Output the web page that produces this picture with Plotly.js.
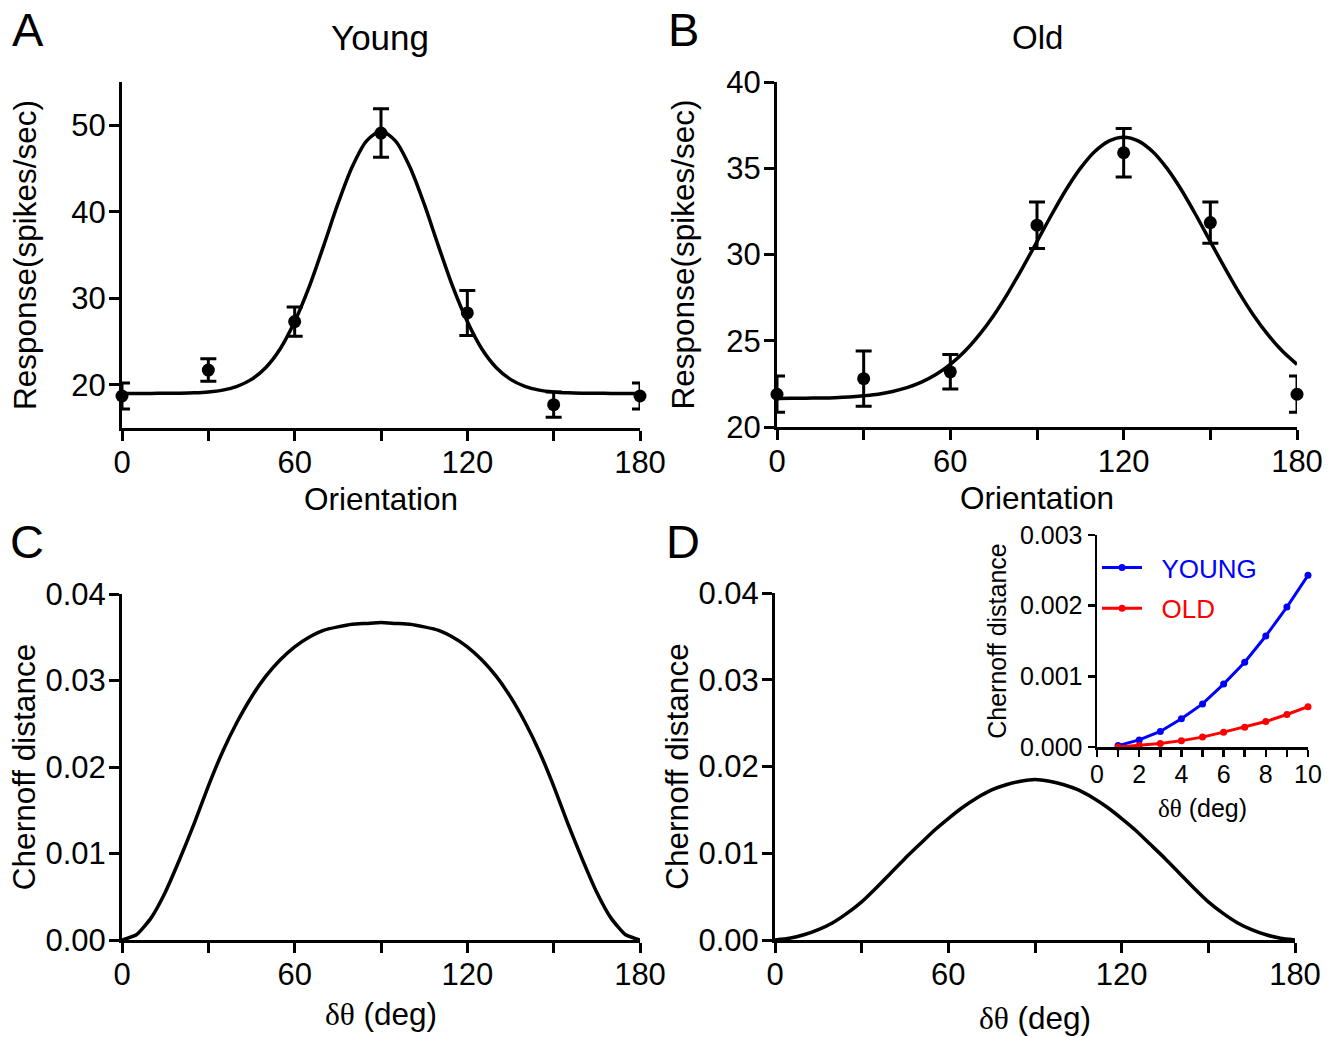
<!DOCTYPE html>
<html><head><meta charset="utf-8">
<script src="https://cdn.plot.ly/plotly-3.0.1.min.js"></script>
<style>html,body{margin:0;padding:0;background:#fff}#chart{width:1333px;height:1037px}</style>
</head><body><div id="chart"></div>
<script>
// ---- Data ----
const orientations = [0, 30, 60, 90, 120, 150, 180];
const youngResp = [18.7, 21.7, 27.3, 49.1, 28.3, 17.7, 18.7];
const youngErr  = [1.5, 1.3, 1.7, 2.8, 2.6, 1.45, 1.5];
const oldResp   = [21.9, 22.8, 23.2, 31.7, 35.9, 31.85, 21.9];
const oldErr    = [1.05, 1.6, 1.0, 1.35, 1.4, 1.2, 1.05];

const fitAngles = [0,5,10,15,20,25,30,35,40,45,50,55,60,65,70,75,80,85,90,95,100,105,110,115,120,125,130,135,140,145,150,155,160,165,170,175,180];
const youngFit = [19.00,19.00,19.00,19.01,19.03,19.07,19.17,19.38,19.82,20.62,22.00,24.16,27.30,31.28,36.00,40.90,45.20,48.20,49.30,48.20,45.20,40.90,36.00,31.28,27.30,24.16,22.00,20.62,19.82,19.38,19.17,19.07,19.03,19.01,19.00,19.00,19.00];
const oldFit = [21.65,21.66,21.67,21.68,21.70,21.74,21.81,21.90,22.06,22.28,22.60,23.04,23.63,24.39,25.34,26.47,27.78,29.23,30.75,32.29,33.74,34.99,35.97,36.59,36.80,36.59,35.97,34.99,33.74,32.29,30.75,29.23,27.78,26.47,25.34,24.39,23.63];

const dTheta = [0,5,10,15,20,25,30,35,40,45,50,55,60,65,70,75,80,85,90,95,100,105,110,115,120,125,130,135,140,145,150,155,160,165,170,175,180];
const chernoffYoung = [0,0.0006,0.0025,0.0055,0.0093,0.0134,0.0178,0.0218,0.0252,0.0281,0.0305,0.0324,0.0339,0.0350,0.0358,0.0362,0.0365,0.0366,0.0367,0.0366,0.0365,0.0362,0.0358,0.0350,0.0339,0.0324,0.0305,0.0281,0.0252,0.0218,0.0178,0.0134,0.0093,0.0055,0.0025,0.0006,0];
const chernoffOld = [0,0.0002,0.0006,0.0012,0.0020,0.0031,0.0044,0.0060,0.0077,0.0094,0.0110,0.0126,0.0140,0.0153,0.0164,0.0173,0.0179,0.0183,0.0185,0.0183,0.0179,0.0173,0.0164,0.0153,0.0140,0.0126,0.0110,0.0094,0.0077,0.0060,0.0044,0.0031,0.0020,0.0012,0.0006,0.0002,0];

const insetDTheta = [1,2,3,4,5,6,7,8,9,10];
const insetYoung = [0.00002,0.00010,0.00022,0.00040,0.00061,0.00089,0.00120,0.00157,0.00198,0.00243];
const insetOld   = [0.00000,0.00002,0.00005,0.00009,0.00014,0.00021,0.00028,0.00036,0.00046,0.00057];

const orientTicks = [0,30,60,90,120,150,180];
const orientTickText = ['0','','60','','120','','180'];
const insetTicks = [0,1,2,3,4,5,6,7,8,9,10];
const insetTickText = ['0','','2','','4','','6','','8','','10'];

// ---- Styling ----
const FONT = 'Liberation Sans, Arial, sans-serif';
const W = 1333, H = 1037;
function px(x0, x1) { return [x0 / W, x1 / W]; }
function py(top, bottom) { return [1 - bottom / H, 1 - top / H]; }

function axis(extra) {
  return Object.assign({
    showline: true, linecolor: '#000', linewidth: 3,
    ticks: 'outside', ticklen: 10, tickwidth: 3, tickcolor: '#000',
    showgrid: false, zeroline: false, fixedrange: true,
    tickfont: {family: FONT, size: 31, color: '#000'},
    automargin: false
  }, extra);
}
const serifDT = '<span style="font-family:Liberation Serif, Times New Roman, serif">δθ</span> (deg)';
const titleFont = {family: FONT, size: 31.5, color: '#000'};
const insetFont = {family: FONT, size: 25, color: '#000'};

const errStyle = {type: 'data', visible: true, thickness: 3, width: 8, color: '#000'};

const traces = [
  // Panel A
  {x: fitAngles, y: youngFit, xaxis: 'x', yaxis: 'y', mode: 'lines',
   line: {color: '#000', width: 3.5, shape: 'spline', smoothing: 0.8}, showlegend: false, hoverinfo: 'skip'},
  {x: orientations, y: youngResp, xaxis: 'x', yaxis: 'y', mode: 'markers',
   marker: {color: '#000', size: 13}, error_y: Object.assign({array: youngErr}, errStyle),
   cliponaxis: false, showlegend: false},
  // Panel B
  {x: fitAngles, y: oldFit, xaxis: 'x2', yaxis: 'y2', mode: 'lines',
   line: {color: '#000', width: 3.5, shape: 'spline', smoothing: 0.8}, showlegend: false, hoverinfo: 'skip'},
  {x: orientations, y: oldResp, xaxis: 'x2', yaxis: 'y2', mode: 'markers',
   marker: {color: '#000', size: 13}, error_y: Object.assign({array: oldErr}, errStyle),
   cliponaxis: false, showlegend: false},
  // Panel C
  {x: dTheta, y: chernoffYoung, xaxis: 'x3', yaxis: 'y3', mode: 'lines',
   line: {color: '#000', width: 3.5, shape: 'spline', smoothing: 0.5}, showlegend: false, cliponaxis: false},
  // Panel D
  {x: dTheta, y: chernoffOld, xaxis: 'x4', yaxis: 'y4', mode: 'lines',
   line: {color: '#000', width: 3.5, shape: 'spline', smoothing: 0.5}, showlegend: false, cliponaxis: false},
  // Inset
  {x: insetDTheta, y: insetYoung, xaxis: 'x5', yaxis: 'y5', mode: 'lines+markers',
   name: '&nbsp;&nbsp;<span style="color:#0000ff">YOUNG</span>', legendgroup: 'a',
   line: {color: '#0000ff', width: 3}, marker: {color: '#0000ff', size: 7}, cliponaxis: false},
  {x: insetDTheta, y: insetOld, xaxis: 'x5', yaxis: 'y5', mode: 'lines+markers',
   name: '&nbsp;&nbsp;<span style="color:#ff0000">OLD</span>', legendgroup: 'b',
   line: {color: '#ff0000', width: 3}, marker: {color: '#ff0000', size: 7}, cliponaxis: false}
];

const layout = {
  width: W, height: H,
  margin: {l: 0, r: 0, t: 0, b: 0},
  paper_bgcolor: '#fff', plot_bgcolor: 'rgba(0,0,0,0)',
  font: {family: FONT, color: '#000'},
  showlegend: true,
  legend: {x: 1097 / W, y: 1 - 544 / H, xanchor: 'left', yanchor: 'top',
           font: {family: FONT, size: 26}, bgcolor: 'rgba(0,0,0,0)', tracegroupgap: 4,
           itemwidth: 40},
  xaxis: axis({domain: px(122, 640), anchor: 'y', range: [0, 180], tickvals: orientTicks, ticktext: orientTickText,
    ticklabelstandoff: -5, title: {text: 'Orientation', font: titleFont, standoff: 9}}),
  yaxis: axis({domain: py(82, 428), anchor: 'x', range: [15, 55], tickvals: [20, 30, 40, 50],
    ticklabelstandoff: -3, title: {text: 'Response(spikes/sec)', font: titleFont, standoff: 26}}),
  xaxis2: axis({domain: px(777, 1297), anchor: 'y2', range: [0, 180], tickvals: orientTicks, ticktext: orientTickText,
    ticklabelstandoff: -5, title: {text: 'Orientation', font: titleFont, standoff: 9}}),
  yaxis2: axis({domain: py(82, 427), anchor: 'x2', range: [20, 40], tickvals: [20, 25, 30, 35, 40],
    ticklabelstandoff: -3, title: {text: 'Response(spikes/sec)', font: titleFont, standoff: 23}}),
  xaxis3: axis({domain: px(122, 640), anchor: 'y3', range: [0, 180], tickvals: orientTicks, ticktext: orientTickText,
    ticklabelstandoff: -5, title: {text: serifDT, font: titleFont, standoff: 12}}),
  yaxis3: axis({domain: py(594, 940), anchor: 'x3', range: [0, 0.04], dtick: 0.01, tickformat: '.2f',
    ticklabelstandoff: -3, title: {text: 'Chernoff distance', font: titleFont, standoff: 1}}),
  xaxis4: axis({domain: px(775, 1295), anchor: 'y4', range: [0, 180], tickvals: orientTicks, ticktext: orientTickText,
    ticklabelstandoff: -5, title: {text: serifDT, font: titleFont, standoff: 16}}),
  yaxis4: axis({domain: py(593, 940), anchor: 'x4', range: [0, 0.04], dtick: 0.01, tickformat: '.2f',
    ticklabelstandoff: -3, title: {text: 'Chernoff distance', font: titleFont, standoff: 1}}),
  xaxis5: axis({domain: px(1097, 1308), anchor: 'y5', range: [0, 10], tickvals: insetTicks, ticktext: insetTickText,
    ticklen: 7, tickwidth: 2.5, linewidth: 2.5, tickfont: insetFont, ticklabelstandoff: -4,
    title: {text: serifDT, font: insetFont, standoff: 13}}),
  yaxis5: axis({domain: py(535, 747), anchor: 'x5', range: [0, 0.003], dtick: 0.001, tickformat: '.3f',
    ticklen: 7, tickwidth: 2.5, linewidth: 2.5, tickfont: insetFont,
    title: {text: 'Chernoff distance', font: insetFont, standoff: 6}}),
  annotations: [
    {text: 'A', x: 28 / W, y: 1 - 30 / H},
    {text: 'B', x: 683 / W, y: 1 - 30 / H},
    {text: 'C', x: 27 / W, y: 1 - 541 / H},
    {text: 'D', x: 683 / W, y: 1 - 541 / H}
  ].map(a => Object.assign({xref: 'paper', yref: 'paper', showarrow: false, xanchor: 'center', yanchor: 'middle',
    font: {family: FONT, size: 47, color: '#000'}}, a)).concat([
    {text: 'Young', x: 380 / W, y: 1 - 37 / H, size: 35},
    {text: 'Old', x: 1037 / W, y: 1 - 37 / H, size: 33}
  ].map(a => ({xref: 'paper', yref: 'paper', showarrow: false, xanchor: 'center', yanchor: 'middle',
    text: a.text, x: a.x, y: a.y, font: {family: FONT, size: a.size, color: '#000'}})))
};

Plotly.newPlot('chart', traces, layout, {displayModeBar: false, staticPlot: true});
</script>
</body></html>
